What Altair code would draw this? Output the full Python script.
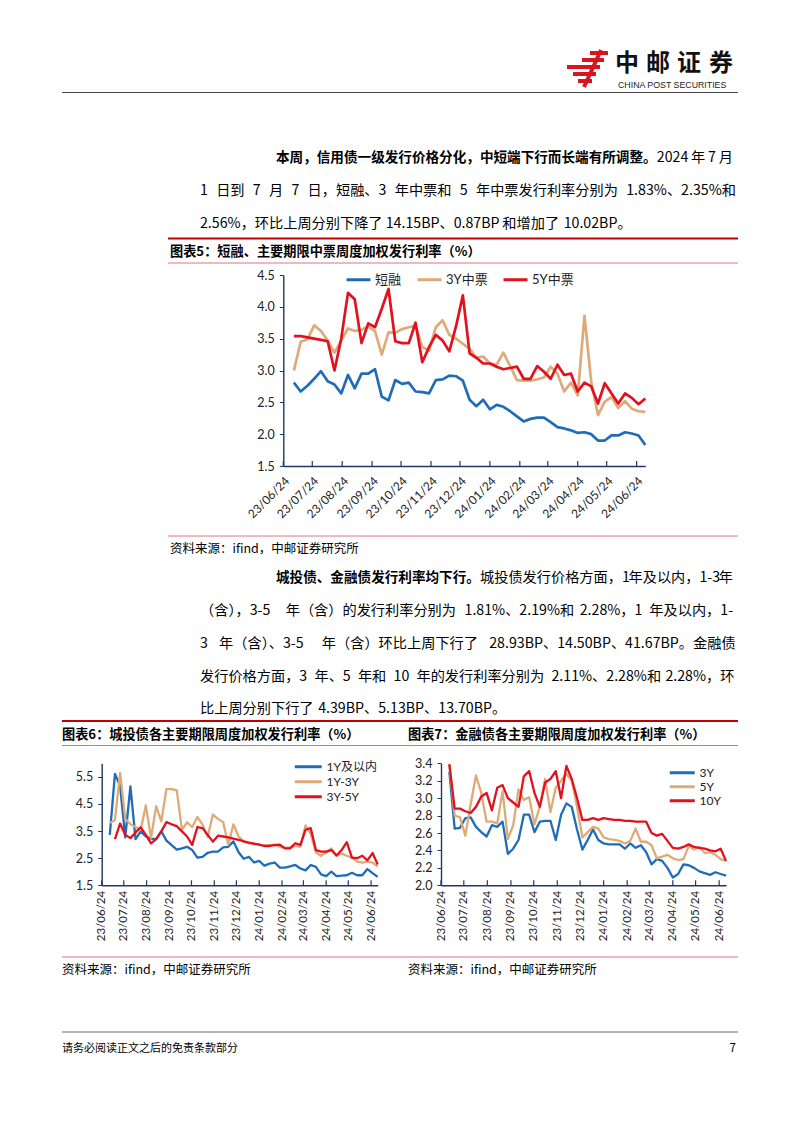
import altair as alt
import pandas as pd

CJK = "Noto Sans CJK SC"
LAT = "Lato, Noto Sans CJK SC"
AX = "#1F3864"
COLORS = ["#1F6DB8", "#DDAA78", "#E3101E"]
W, H = 786, 1112

# ---------------- data ----------------
first_week = "2023-07-05"
n_weeks = 53
x_start = "2023-06-24"
x_end = "2024-07-03"
tick_dates = ["2023-06-24", "2023-07-24", "2023-08-24", "2023-09-24", "2023-10-24",
              "2023-11-24", "2023-12-24", "2024-01-24", "2024-02-24", "2024-03-24",
              "2024-04-24", "2024-05-24", "2024-06-24"]

names5 = ["短融", "3Y中票", "5Y中票"]
stf = [2.81, 2.67, 2.76, 2.87, 2.99, 2.83, 2.78, 2.64, 2.93, 2.72, 2.95, 2.95, 3.02, 2.59,
       2.53, 2.85, 2.79, 2.81, 2.67, 2.66, 2.64, 2.85, 2.86, 2.92, 2.91, 2.84, 2.54, 2.44,
       2.54, 2.39, 2.46, 2.43, 2.36, 2.28, 2.20, 2.24, 2.26, 2.26, 2.19, 2.11, 2.09, 2.06,
       2.02, 2.03, 2.00, 1.90, 1.90, 1.98, 1.98, 2.03, 2.01, 1.98, 1.83]
mtn3 = [3.00, 3.45, 3.49, 3.71, 3.62, 3.47, 3.28, 3.47, 3.66, 3.62, 3.64, 3.69, 3.62, 3.25,
        3.60, 3.59, 3.65, 3.68, 3.70, 3.37, 3.31, 3.68, 3.79, 3.56, 3.50, 3.42, 3.34, 3.20,
        3.22, 3.11, 3.09, 3.28, 3.07, 2.85, 2.84, 2.84, 2.86, 2.89, 3.06, 2.95, 2.67, 2.81,
        2.61, 3.86, 2.82, 2.30, 2.51, 2.58, 2.41, 2.52, 2.40, 2.36, 2.35]
mtn5 = [3.54, 3.54, 3.52, 3.50, 3.48, 3.46, 3.00, 3.50, 4.22, 4.12, 3.43, 3.74, 3.68, 3.97,
        4.28, 3.46, 3.43, 3.43, 3.75, 3.13, 3.37, 3.56, 3.47, 3.30, 3.70, 4.18, 3.27, 3.20,
        3.11, 3.11, 3.06, 3.02, 3.04, 3.06, 2.87, 2.87, 3.07, 2.98, 2.87, 3.09, 2.93, 2.95,
        2.67, 2.81, 2.75, 2.48, 2.80, 2.64, 2.48, 2.64, 2.57, 2.47, 2.56]

names6 = ["1Y及以内", "1Y-3Y", "3Y-5Y"]
ct_1y = [3.36, 5.61, 5.17, 3.27, 5.15, 3.20, 3.49, 3.30, 3.22, 3.20, 3.49, 3.15, 2.98, 2.82,
         2.86, 2.92, 2.80, 2.52, 2.55, 2.70, 2.74, 2.74, 2.90, 2.92, 3.12, 2.72, 2.48, 2.55,
         2.34, 2.40, 2.22, 2.30, 2.34, 2.15, 2.15, 2.20, 2.25, 2.12, 2.05, 2.25, 2.18, 1.90,
         1.84, 2.00, 1.84, 1.86, 1.87, 1.96, 1.87, 1.87, 2.10, 1.95, 1.81]
ct_1_3 = [3.80, 3.90, 5.65, 3.95, 3.75, 3.65, 3.55, 4.45, 3.24, 4.42, 3.86, 5.05, 5.05, 5.00,
          3.55, 3.82, 3.65, 4.02, 3.74, 3.28, 4.11, 3.95, 3.83, 3.00, 3.75, 3.30, 3.11, 3.05,
          3.02, 3.00, 2.97, 2.97, 3.00, 2.92, 2.88, 2.90, 2.95, 2.92, 3.71, 3.40, 2.71, 2.59,
          2.71, 2.86, 2.59, 2.67, 2.59, 2.52, 2.37, 2.34, 2.37, 2.34, 2.19]
ct_3_5 = [None, 3.20, 3.78, 3.36, 3.24, 3.45, 3.64, 3.36, 3.05, 3.20, 3.49, 3.83, 3.75, 3.68,
          3.49, 3.30, 2.99, 3.65, 3.61, 3.36, 3.11, 3.33, 3.30, 3.27, 3.22, 3.18, 3.12, 3.07,
          3.04, 3.00, 2.95, 2.95, 2.98, 3.00, 2.86, 2.86, 3.05, 2.99, 3.55, 3.61, 2.80, 2.74,
          2.74, 2.80, 2.60, 2.80, 3.09, 2.52, 2.50, 2.59, 2.42, 2.69, 2.27]

names7 = ["3Y", "5Y", "10Y"]
fin_3 = [3.30, 2.65, 2.66, 2.77, 2.78, 2.67, 2.61, 2.56, 2.69, 2.67, 2.73, 2.36, 2.42, 2.52,
         2.81, 2.81, 2.61, 2.73, 2.74, 2.74, 2.52, 2.81, 2.94, 2.90, 2.64, 2.41, 2.52, 2.64,
         2.52, 2.48, 2.47, 2.47, 2.47, 2.42, 2.48, 2.43, 2.46, 2.38, 2.24, 2.30, 2.28, 2.20,
         2.09, 2.13, 2.24, 2.23, 2.20, 2.16, 2.14, 2.12, 2.15, 2.13, 2.11]
fin_5 = [3.38, 2.80, 2.78, 2.57, 2.93, 3.26, 3.06, 2.73, 2.73, 2.71, 3.08, 2.53, 2.69, 3.10,
         2.98, 3.01, 2.70, 2.90, 3.22, 2.84, 3.12, 3.20, 3.28, 3.20, 2.90, 2.55, 2.61, 2.67,
         2.65, 2.55, 2.53, 2.52, 2.51, 2.48, 2.51, 2.65, 2.50, 2.50, 2.46, 2.31, 2.33, 2.35,
         2.31, 2.29, 2.30, 2.45, 2.41, 2.44, 2.37, 2.38, 2.35, 2.30, 2.28]
fin_10 = [3.39, 2.88, 2.88, 2.85, 2.83, 2.90, 3.02, 3.06, 2.86, 3.12, 3.15, 3.00, 2.95, 2.90,
          3.25, 3.31, 3.06, 2.90, 3.18, 3.22, 3.31, 3.00, 3.37, 3.22, 3.00, 2.75, 2.75, 2.77,
          2.75, 2.77, 2.76, 2.75, 2.75, 2.74, 2.74, 2.73, 2.73, 2.73, 2.60, 2.57, 2.59, 2.51,
          2.43, 2.42, 2.44, 2.47, 2.44, 2.43, 2.42, 2.40, 2.39, 2.42, 2.28]

y5_ticks = [1.5, 2.0, 2.5, 3.0, 3.5, 4.0, 4.5]
y6_ticks = [1.5, 2.5, 3.5, 4.5, 5.5]
y7_ticks = [2.0, 2.2, 2.4, 2.6, 2.8, 3.0, 3.2, 3.4]


def ms(d):
    return int(pd.Timestamp(d, tz="UTC").timestamp() * 1000)


week_ms = [int(d.timestamp() * 1000) for d in
           pd.date_range(first_week, periods=n_weeks, freq="7D", tz="UTC")]
tick_ms = [ms(d) for d in tick_dates]


# ---------------- helpers (page coordinates, page margin 8px) ----------------
def txt(s, x, y, size=13.8, bold=False, align="left", color="#000", font=CJK):
    return alt.Chart(pd.DataFrame({"t": [s]})).mark_text(
        align=align, baseline="middle", fontSize=size,
        fontWeight="bold" if bold else "normal", color=color, font=font
    ).encode(x=alt.value(x - 8), y=alt.value(y - 8), text="t:N")


def hrule(x1, x2, y, color, w):
    return alt.Chart(pd.DataFrame({"a": [0]})).mark_rule(color=color, strokeWidth=w).encode(
        x=alt.value(x1 - 8), x2=alt.value(x2 - 8), y=alt.value(y - 8))


def segment(x1, y1, x2, y2, color, w):
    return alt.Chart(pd.DataFrame({"a": [0]})).mark_rule(color=color, strokeWidth=w).encode(
        x=alt.value(x1 - 8), x2=alt.value(x2 - 8), y=alt.value(y1 - 8), y2=alt.value(y2 - 8))


def cw(ch, s):
    if ord(ch) > 0x2E80:
        return s
    if ch.isdigit():
        return 0.553 * s
    if ch == ".":
        return 0.27 * s
    if ch == "%":
        return 0.83 * s
    if ch == "-":
        return 0.34 * s
    if ch.isupper():
        return 0.62 * s
    return 0.5 * s


SB, SR = 13.6, 14.2  # bold / regular body sizes


def para_line(runs, x0, x1, y, justify):
    segs = [[]]
    for text, bold in runs:
        parts = text.split(" ")
        for i, p in enumerate(parts):
            if i > 0:
                segs.append([])
            if p:
                segs[-1].append((p, bold))
    segs = [g for g in segs if g]

    def tw(t, b):
        return sum(cw(c, SB if b else SR) for c in t)

    widths = [sum(tw(t, b) for t, b in g) for g in segs]
    if justify and len(segs) > 1:
        gap = (x1 - x0 - sum(widths)) / (len(segs) - 1)
    else:
        gap = 0.32 * SR
    out = []
    x = x0
    for g, w in zip(segs, widths):
        xx = x
        for t, b in g:
            out.append(txt(t, xx, y, size=SB if b else SR, bold=b))
            xx += tw(t, b)
        x += w + gap
    return out


def panel(names, series, x0, x1, ytop, ybot, ydom, yticks, leg, sw, angle, lsize, lpad):
    rows = []
    for name, vals in zip(names, series):
        for d, v in zip(week_ms, vals):
            if v is not None:
                rows.append({"t": d, "v": v, "s": name})
    df = pd.DataFrame(rows)
    xsc = alt.Scale(type="utc", domain=[ms(x_start), ms(x_end)], range=[x0 - 8, x1 - 8], nice=False)
    ysc = alt.Scale(domain=ydom, range=[ybot - 8, ytop - 8], nice=False, zero=False)
    xax = alt.Axis(orient="bottom", offset=(ybot - 8) - H, values=tick_ms,
                   labelExpr="utcFormat(datum.value, '%y/%m/%d')",
                   labelAngle=angle, labelFontSize=lsize, labelFont=LAT, labelColor="#222",
                   ticks=False, domainColor=AX, domainWidth=1.4, grid=False,
                   labelPadding=lpad, labelFlush=False, labelOverlap=False, labelBound=False)
    yax = alt.Axis(orient="left", offset=-(x0 - 8), values=yticks, format=".1f",
                   labelFontSize=12.5, labelFont=LAT, labelColor="#222",
                   tickSize=4, tickColor=AX, domainColor=AX, domainWidth=1.4, grid=False,
                   labelPadding=5, labelFlush=False)
    lines = alt.Chart(df).mark_line(strokeWidth=sw, strokeJoin="round").encode(
        x=alt.X("t:T", scale=xsc, axis=xax, title=None),
        y=alt.Y("v:Q", scale=ysc, axis=yax, title=None),
        color=alt.Color("s:N", scale=alt.Scale(domain=names, range=COLORS), legend=leg, title=None),
    )
    ticks = alt.Chart(pd.DataFrame({"t": tick_ms})).mark_rule(color=AX, strokeWidth=1.2).encode(
        x=alt.X("t:T", scale=xsc, axis=xax, title=None),
        y=alt.value(ybot - 8), y2=alt.value(ybot - 8 - 5))
    return alt.layer(lines, ticks)


def legend(line_x, first_y, horizontal, size, length, col_pad=12, row_pad=1):
    # stroke symbol: a line that extends 3/4 of its length left of the symbol box
    r = length / 4.0
    box = 2 * r
    return alt.Legend(orient="none", legendX=line_x + box - 8, legendY=first_y - r - 8,
                      symbolType="M-3,0H1", symbolSize=box * box, symbolStrokeWidth=3,
                      symbolFillColor="transparent",
                      labelFontSize=size, labelFont=LAT, labelColor="#222", labelOffset=3,
                      padding=0, rowPadding=row_pad, columnPadding=col_pad,
                      direction="horizontal" if horizontal else "vertical")


RED = "#C00000"
PINK = "#E07080"
LOGO = "#D9141E"

layers = []
# header
for (a, b, yy) in [(590, 608, 53), (582, 604, 60), (567, 600, 67), (573, 596, 74), (578, 592, 81)]:
    layers.append(hrule(a, b, yy, LOGO, 4))
layers.append(segment(601, 50, 584, 87, LOGO, 4))
for ch, cx in zip("中邮证券", [627, 658, 689, 721]):
    layers.append(txt(ch, cx, 64, size=24, bold=True, align="center", color="#111"))
layers.append(txt("CHINA POST SECURITIES", 618, 85, size=8.8, font="Liberation Sans", color="#222"))
layers.append(hrule(62, 738, 92.5, "#444", 1))

# paragraph 1
layers += para_line([("本周，信用债一级发行价格分化，中短端下行而长端有所调整。", True), ("2024 年 7 月", False)],
                    276, 733, 158, True)
layers += para_line([("1 日到 7 月 7 日，短融、3 年中票和 5 年中票发行利率分别为 1.83%、2.35%和", False)],
                    200, 733, 191, True)
layers += para_line([("2.56%，环比上周分别下降了 14.15BP、0.87BP 和增加了 10.02BP。", False)],
                    200, 733, 224, False)

# figure 5 frame
layers.append(hrule(168, 738, 238.5, RED, 2))
layers.append(txt("图表5：短融、主要期限中票周度加权发行利率（%）", 170, 252, size=13.2, bold=True))
layers.append(hrule(168, 738, 263, PINK, 1))
layers.append(hrule(168, 738, 536, PINK, 1))
layers.append(txt("资料来源：ifind，中邮证券研究所", 170, 549, size=12.5))

# paragraph 2
p2 = [
    (276, 578, [("城投债、金融债发行利率均下行。", True), ("城投债发行价格方面，1 年及以内，1-3 年", False)], True),
    (200, 611, [("（含），3-5 年（含）的发行利率分别为 1.81%、2.19%和 2.28%，1 年及以内，1-", False)], True),
    (200, 644, [("3 年（含）、3-5 年（含）环比上周下行了 28.93BP、14.50BP、41.67BP。金融债", False)], True),
    (200, 677, [("发行价格方面，3 年、5 年和 10 年的发行利率分别为 2.11%、2.28%和 2.28%，环", False)], True),
    (200, 709, [("比上周分别下行了 4.39BP、5.13BP、13.70BP。", False)], False),
]
for x0, yy, runs, j in p2:
    layers += para_line(runs, x0, 733, yy, j)

# figures 6 / 7 frame
layers.append(hrule(62, 738, 721, RED, 2))
layers.append(txt("图表6：城投债各主要期限周度加权发行利率（%）", 62, 735, size=13.2, bold=True))
layers.append(txt("图表7：金融债各主要期限周度加权发行利率（%）", 408, 735, size=13.2, bold=True))
layers.append(hrule(62, 738, 745.5, PINK, 1))
layers.append(hrule(62, 738, 957, PINK, 1))
layers.append(txt("资料来源：ifind，中邮证券研究所", 62, 970, size=12.5))
layers.append(txt("资料来源：ifind，中邮证券研究所", 408, 970, size=12.5))

# footer
layers.append(hrule(62, 738, 1032, "#666", 1))
layers.append(txt("请务必阅读正文之后的免责条款部分", 62, 1049, size=11))
layers.append(txt("7", 736, 1049, size=11.5, align="right"))

# charts
c5 = panel(names5, [stf, mtn3, mtn5], 283.3, 645.3, 275, 466, [1.5, 4.5], y5_ticks,
           legend(345, 278, True, 13, 24, col_pad=9), 2.7, -45, 12, 9)
c6 = panel(names6, [ct_1y, ct_1_3, ct_3_5], 101.7, 377.7, 763.3, 885.3, [1.5, 6.0], y6_ticks,
           legend(293, 765, False, 12, 27, row_pad=0), 2.3, -90, 11.5, 5)
c7 = panel(names7, [fin_3, fin_5, fin_10], 441, 726, 763.3, 885.3, [2.0, 3.4], y7_ticks,
           legend(668, 771, False, 12, 25, row_pad=0), 2.3, -90, 11.5, 5)

chart = alt.layer(*layers, c5, c6, c7).resolve_scale(
    x="independent", y="independent", color="independent"
).properties(width=W, height=H, padding=0).configure_view(strokeWidth=0)

chart.save("out.html", embed_options={"renderer": "svg", "actions": False})
